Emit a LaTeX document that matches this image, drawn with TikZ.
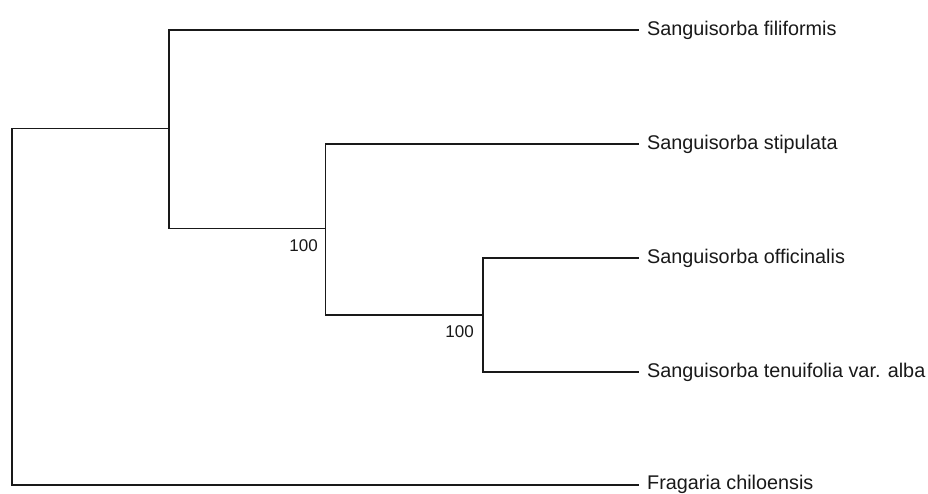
\documentclass[tikz,border=0pt]{standalone}
\usepackage{fontspec}
\setmainfont{Liberation Sans}
\begin{document}
\begin{tikzpicture}[x=1pt,y=-1pt,
  branch/.style={line width=1.7pt,draw=black!90,line cap=rect},
  taxon/.style={anchor=west,inner sep=0pt,font=\fontsize{19.8}{22}\selectfont,text=black!90},
  support/.style={anchor=east,inner sep=0pt,font=\fontsize{17}{19}\selectfont,text=black!90}]
\useasboundingbox[fill=white] (0,0) rectangle (928,493);

% internal nodes (x = depth, y = midpoint of children)
\coordinate (root) at (12,128.5);
\coordinate (n1) at (169,128.5);
\coordinate (n2) at (325.5,228.5);
\coordinate (n3) at (483,315);

% leaf tips
\coordinate (t1) at (638,30);
\coordinate (t2) at (638,144);
\coordinate (t3) at (638,258);
\coordinate (t4) at (638,372);
\coordinate (t5) at (638,485);

% taxon labels
\node[taxon] (l1) at (647,30) {Sanguisorba filiformis};
\node[taxon] (l2) at (647,144) {Sanguisorba stipulata};
\node[taxon] (l3) at (647,258) {Sanguisorba officinalis};
\node[taxon] (l4) at (647,372) {Sanguisorba tenuifolia var. alba};
\node[taxon] (l5) at (647,484.5) {Fragaria chiloensis};

% bootstrap values
\node[support] (b2) at (318,245.5) {100};
\node[support] (b3) at (474,331.5) {100};

% branches
\draw[branch] (root) -- (n1);
\draw[branch] (root) |- (t5);
\draw[branch] (n1) |- (t1);
\draw[branch] (n1) |- (n2);
\draw[branch] (n2) |- (t2);
\draw[branch] (n2) |- (n3);
\draw[branch] (n3) |- (t3);
\draw[branch] (n3) |- (t4);
\end{tikzpicture}
\end{document}
